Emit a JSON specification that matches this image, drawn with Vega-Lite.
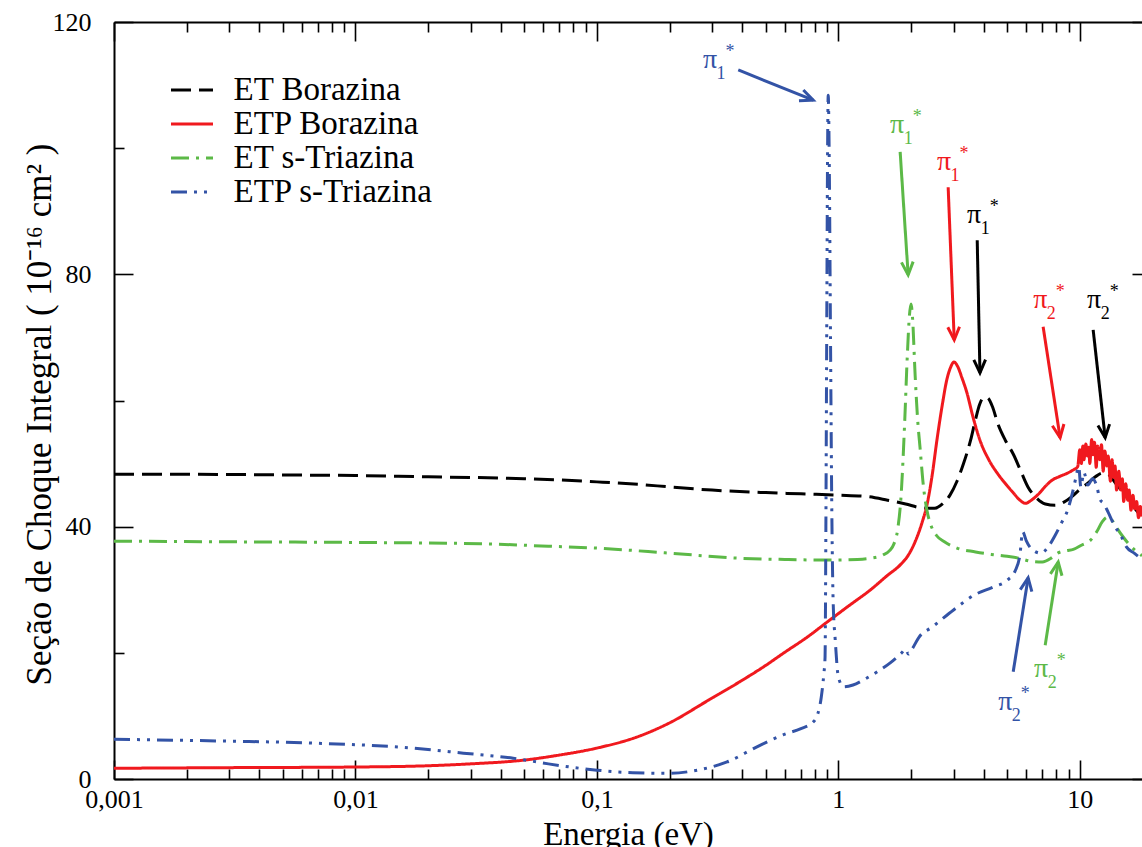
{
  "$schema": "https://vega.github.io/schema/vega-lite/v6.json",
  "width": 1028,
  "height": 757,
  "autosize": {"type": "none"},
  "padding": {"left": 114, "top": 22, "right": 0, "bottom": 68},
  "background": "white",
  "config": {
    "view": {"stroke": null},
    "font": "Liberation Serif, Times New Roman, serif",
    "text": {"font": "Liberation Serif, Times New Roman, serif"},
    "legend": {"labelFont": "Liberation Serif, Times New Roman, serif"},
    "axis": {
      "grid": false,
      "domainColor": "black",
      "domainWidth": 2,
      "tickColor": "black",
      "tickWidth": 1.6,
      "labelColor": "black",
      "titleColor": "black",
      "labelFont": "Liberation Serif, Times New Roman, serif",
      "titleFont": "Liberation Serif, Times New Roman, serif",
      "labelFontSize": 26,
      "titleFontSize": 34,
      "titleFontWeight": "normal",
      "labelFlush": false,
      "labelOverlap": false
    }
  },
  "datasets": {
    "curves": [
      {"s": "ET Borazina", "e": 0.001, "v": 48.3},
      {"s": "ET Borazina", "e": 0.002, "v": 48.3},
      {"s": "ET Borazina", "e": 0.005, "v": 48.2},
      {"s": "ET Borazina", "e": 0.01, "v": 48.1},
      {"s": "ET Borazina", "e": 0.02, "v": 47.9},
      {"s": "ET Borazina", "e": 0.03, "v": 47.8},
      {"s": "ET Borazina", "e": 0.05, "v": 47.6},
      {"s": "ET Borazina", "e": 0.07, "v": 47.4},
      {"s": "ET Borazina", "e": 0.1, "v": 47.1},
      {"s": "ET Borazina", "e": 0.15, "v": 46.7},
      {"s": "ET Borazina", "e": 0.2, "v": 46.3},
      {"s": "ET Borazina", "e": 0.3, "v": 45.8},
      {"s": "ET Borazina", "e": 0.5, "v": 45.4},
      {"s": "ET Borazina", "e": 0.7, "v": 45.2},
      {"s": "ET Borazina", "e": 1.0, "v": 45.0},
      {"s": "ET Borazina", "e": 1.3, "v": 44.8},
      {"s": "ET Borazina", "e": 1.6, "v": 44.2},
      {"s": "ET Borazina", "e": 1.9, "v": 43.6},
      {"s": "ET Borazina", "e": 2.2, "v": 43.0},
      {"s": "ET Borazina", "e": 2.5, "v": 42.9},
      {"s": "ET Borazina", "e": 2.7, "v": 43.6},
      {"s": "ET Borazina", "e": 2.9, "v": 45.0},
      {"s": "ET Borazina", "e": 3.1, "v": 47.2},
      {"s": "ET Borazina", "e": 3.3, "v": 50.0},
      {"s": "ET Borazina", "e": 3.53, "v": 53.7},
      {"s": "ET Borazina", "e": 3.7, "v": 57.0},
      {"s": "ET Borazina", "e": 3.85, "v": 59.4},
      {"s": "ET Borazina", "e": 4.0, "v": 60.5},
      {"s": "ET Borazina", "e": 4.15, "v": 60.4},
      {"s": "ET Borazina", "e": 4.35, "v": 59.0},
      {"s": "ET Borazina", "e": 4.57, "v": 56.4},
      {"s": "ET Borazina", "e": 4.9, "v": 53.8},
      {"s": "ET Borazina", "e": 5.32, "v": 51.4},
      {"s": "ET Borazina", "e": 5.7, "v": 48.8},
      {"s": "ET Borazina", "e": 6.1, "v": 46.3},
      {"s": "ET Borazina", "e": 6.6, "v": 44.6},
      {"s": "ET Borazina", "e": 7.2, "v": 43.6},
      {"s": "ET Borazina", "e": 7.9, "v": 43.4},
      {"s": "ET Borazina", "e": 8.6, "v": 43.9},
      {"s": "ET Borazina", "e": 9.3, "v": 44.8},
      {"s": "ET Borazina", "e": 10.0, "v": 45.9},
      {"s": "ET Borazina", "e": 10.8, "v": 46.9},
      {"s": "ET Borazina", "e": 11.6, "v": 47.9},
      {"s": "ET Borazina", "e": 12.4, "v": 48.5},
      {"s": "ET Borazina", "e": 13.2, "v": 48.2},
      {"s": "ET Borazina", "e": 14.0, "v": 47.0},
      {"s": "ET Borazina", "e": 15.0, "v": 45.6},
      {"s": "ET Borazina", "e": 16.0, "v": 44.4},
      {"s": "ET Borazina", "e": 17.0, "v": 42.8},
      {"s": "ET Borazina", "e": 18.1, "v": 41.6},

      {"s": "ETP Borazina", "e": 0.001, "v": 1.7},
      {"s": "ETP Borazina", "e": 0.003, "v": 1.8},
      {"s": "ETP Borazina", "e": 0.01, "v": 1.9},
      {"s": "ETP Borazina", "e": 0.02, "v": 2.1},
      {"s": "ETP Borazina", "e": 0.03, "v": 2.4},
      {"s": "ETP Borazina", "e": 0.05, "v": 3.0},
      {"s": "ETP Borazina", "e": 0.07, "v": 3.8},
      {"s": "ETP Borazina", "e": 0.1, "v": 4.9},
      {"s": "ETP Borazina", "e": 0.15, "v": 6.8},
      {"s": "ETP Borazina", "e": 0.2, "v": 8.9},
      {"s": "ETP Borazina", "e": 0.29, "v": 12.5},
      {"s": "ETP Borazina", "e": 0.39, "v": 15.4},
      {"s": "ETP Borazina", "e": 0.5, "v": 18.0},
      {"s": "ETP Borazina", "e": 0.59, "v": 19.9},
      {"s": "ETP Borazina", "e": 0.75, "v": 22.6},
      {"s": "ETP Borazina", "e": 0.9, "v": 24.9},
      {"s": "ETP Borazina", "e": 1.1, "v": 27.4},
      {"s": "ETP Borazina", "e": 1.36, "v": 30.0},
      {"s": "ETP Borazina", "e": 1.6, "v": 32.3},
      {"s": "ETP Borazina", "e": 1.8, "v": 33.9},
      {"s": "ETP Borazina", "e": 1.95, "v": 35.5},
      {"s": "ETP Borazina", "e": 2.1, "v": 38.0},
      {"s": "ETP Borazina", "e": 2.22, "v": 40.6},
      {"s": "ETP Borazina", "e": 2.33, "v": 43.5},
      {"s": "ETP Borazina", "e": 2.45, "v": 48.3},
      {"s": "ETP Borazina", "e": 2.56, "v": 53.7},
      {"s": "ETP Borazina", "e": 2.7, "v": 59.5},
      {"s": "ETP Borazina", "e": 2.81, "v": 63.2},
      {"s": "ETP Borazina", "e": 2.92, "v": 65.3},
      {"s": "ETP Borazina", "e": 3.01, "v": 66.1},
      {"s": "ETP Borazina", "e": 3.12, "v": 65.4},
      {"s": "ETP Borazina", "e": 3.25, "v": 63.6},
      {"s": "ETP Borazina", "e": 3.41, "v": 61.2},
      {"s": "ETP Borazina", "e": 3.6, "v": 57.6},
      {"s": "ETP Borazina", "e": 3.86, "v": 53.7},
      {"s": "ETP Borazina", "e": 4.2, "v": 50.6},
      {"s": "ETP Borazina", "e": 4.57, "v": 48.4},
      {"s": "ETP Borazina", "e": 5.0, "v": 46.5},
      {"s": "ETP Borazina", "e": 5.32, "v": 45.3},
      {"s": "ETP Borazina", "e": 5.65, "v": 44.2},
      {"s": "ETP Borazina", "e": 5.96, "v": 43.7},
      {"s": "ETP Borazina", "e": 6.3, "v": 44.2},
      {"s": "ETP Borazina", "e": 6.8, "v": 45.3},
      {"s": "ETP Borazina", "e": 7.2, "v": 46.4},
      {"s": "ETP Borazina", "e": 7.7, "v": 47.4},
      {"s": "ETP Borazina", "e": 8.3, "v": 48.0},
      {"s": "ETP Borazina", "e": 8.9, "v": 48.5},
      {"s": "ETP Borazina", "e": 9.4, "v": 49.0},
      {"s": "ETP Borazina", "e": 9.8, "v": 49.5},
      {"s": "ETP Borazina", "e": 10.0, "v": 52.2},
      {"s": "ETP Borazina", "e": 10.15, "v": 50.0},
      {"s": "ETP Borazina", "e": 10.3, "v": 52.8},
      {"s": "ETP Borazina", "e": 10.4, "v": 50.6},
      {"s": "ETP Borazina", "e": 10.6, "v": 53.1},
      {"s": "ETP Borazina", "e": 10.75, "v": 51.2},
      {"s": "ETP Borazina", "e": 10.9, "v": 52.6},
      {"s": "ETP Borazina", "e": 11.0, "v": 50.0},
      {"s": "ETP Borazina", "e": 11.2, "v": 53.8},
      {"s": "ETP Borazina", "e": 11.35, "v": 51.4},
      {"s": "ETP Borazina", "e": 11.5, "v": 53.4},
      {"s": "ETP Borazina", "e": 11.7, "v": 49.4},
      {"s": "ETP Borazina", "e": 11.85, "v": 52.8},
      {"s": "ETP Borazina", "e": 12.1, "v": 50.6},
      {"s": "ETP Borazina", "e": 12.3, "v": 53.0},
      {"s": "ETP Borazina", "e": 12.5, "v": 48.8},
      {"s": "ETP Borazina", "e": 12.7, "v": 52.0},
      {"s": "ETP Borazina", "e": 12.95, "v": 49.6},
      {"s": "ETP Borazina", "e": 13.1, "v": 51.2},
      {"s": "ETP Borazina", "e": 13.4, "v": 47.2},
      {"s": "ETP Borazina", "e": 13.6, "v": 50.6},
      {"s": "ETP Borazina", "e": 13.85, "v": 47.8},
      {"s": "ETP Borazina", "e": 14.0, "v": 49.6},
      {"s": "ETP Borazina", "e": 14.2, "v": 45.8},
      {"s": "ETP Borazina", "e": 14.5, "v": 48.8},
      {"s": "ETP Borazina", "e": 14.8, "v": 45.8},
      {"s": "ETP Borazina", "e": 15.0, "v": 47.6},
      {"s": "ETP Borazina", "e": 15.2, "v": 44.0},
      {"s": "ETP Borazina", "e": 15.5, "v": 46.8},
      {"s": "ETP Borazina", "e": 15.8, "v": 44.2},
      {"s": "ETP Borazina", "e": 16.0, "v": 45.8},
      {"s": "ETP Borazina", "e": 16.3, "v": 42.6},
      {"s": "ETP Borazina", "e": 16.6, "v": 45.0},
      {"s": "ETP Borazina", "e": 16.9, "v": 42.8},
      {"s": "ETP Borazina", "e": 17.2, "v": 44.0},
      {"s": "ETP Borazina", "e": 17.5, "v": 41.4},
      {"s": "ETP Borazina", "e": 17.8, "v": 43.2},
      {"s": "ETP Borazina", "e": 18.1, "v": 41.6},

      {"s": "ET s-Triazina", "e": 0.001, "v": 37.7},
      {"s": "ET s-Triazina", "e": 0.003, "v": 37.6},
      {"s": "ET s-Triazina", "e": 0.01, "v": 37.5},
      {"s": "ET s-Triazina", "e": 0.033, "v": 37.3},
      {"s": "ET s-Triazina", "e": 0.063, "v": 36.9},
      {"s": "ET s-Triazina", "e": 0.1, "v": 36.6},
      {"s": "ET s-Triazina", "e": 0.2, "v": 35.8},
      {"s": "ET s-Triazina", "e": 0.39, "v": 35.0},
      {"s": "ET s-Triazina", "e": 0.6, "v": 34.8},
      {"s": "ET s-Triazina", "e": 0.9, "v": 34.7},
      {"s": "ET s-Triazina", "e": 1.2, "v": 34.8},
      {"s": "ET s-Triazina", "e": 1.36, "v": 35.0},
      {"s": "ET s-Triazina", "e": 1.53, "v": 35.5},
      {"s": "ET s-Triazina", "e": 1.63, "v": 36.2},
      {"s": "ET s-Triazina", "e": 1.7, "v": 37.3},
      {"s": "ET s-Triazina", "e": 1.76, "v": 39.5},
      {"s": "ET s-Triazina", "e": 1.82, "v": 45.0},
      {"s": "ET s-Triazina", "e": 1.88, "v": 56.0},
      {"s": "ET s-Triazina", "e": 1.93, "v": 67.0},
      {"s": "ET s-Triazina", "e": 1.97, "v": 73.5},
      {"s": "ET s-Triazina", "e": 2.0, "v": 75.3},
      {"s": "ET s-Triazina", "e": 2.03, "v": 73.0},
      {"s": "ET s-Triazina", "e": 2.08, "v": 64.0},
      {"s": "ET s-Triazina", "e": 2.13, "v": 57.0},
      {"s": "ET s-Triazina", "e": 2.18, "v": 52.5},
      {"s": "ET s-Triazina", "e": 2.25, "v": 46.5},
      {"s": "ET s-Triazina", "e": 2.33, "v": 42.5},
      {"s": "ET s-Triazina", "e": 2.42, "v": 40.2},
      {"s": "ET s-Triazina", "e": 2.55, "v": 38.6},
      {"s": "ET s-Triazina", "e": 2.75, "v": 37.6},
      {"s": "ET s-Triazina", "e": 3.1, "v": 36.6},
      {"s": "ET s-Triazina", "e": 3.7, "v": 36.0},
      {"s": "ET s-Triazina", "e": 4.3, "v": 35.6},
      {"s": "ET s-Triazina", "e": 5.0, "v": 35.3},
      {"s": "ET s-Triazina", "e": 5.6, "v": 35.0},
      {"s": "ET s-Triazina", "e": 6.3, "v": 34.5},
      {"s": "ET s-Triazina", "e": 7.0, "v": 34.4},
      {"s": "ET s-Triazina", "e": 7.6, "v": 35.0},
      {"s": "ET s-Triazina", "e": 8.1, "v": 35.8},
      {"s": "ET s-Triazina", "e": 8.8, "v": 36.2},
      {"s": "ET s-Triazina", "e": 9.4, "v": 36.4},
      {"s": "ET s-Triazina", "e": 10.2, "v": 37.1},
      {"s": "ET s-Triazina", "e": 11.1, "v": 37.9},
      {"s": "ET s-Triazina", "e": 11.8, "v": 39.3},
      {"s": "ET s-Triazina", "e": 12.4, "v": 40.8},
      {"s": "ET s-Triazina", "e": 13.0, "v": 41.5},
      {"s": "ET s-Triazina", "e": 13.6, "v": 41.0},
      {"s": "ET s-Triazina", "e": 14.3, "v": 39.7},
      {"s": "ET s-Triazina", "e": 15.1, "v": 38.4},
      {"s": "ET s-Triazina", "e": 16.0, "v": 37.2},
      {"s": "ET s-Triazina", "e": 17.0, "v": 36.2},
      {"s": "ET s-Triazina", "e": 18.1, "v": 35.4},

      {"s": "ETP s-Triazina", "e": 0.001, "v": 6.3},
      {"s": "ETP s-Triazina", "e": 0.003, "v": 6.0},
      {"s": "ETP s-Triazina", "e": 0.0066, "v": 5.7},
      {"s": "ETP s-Triazina", "e": 0.0173, "v": 4.9},
      {"s": "ETP s-Triazina", "e": 0.028, "v": 4.1},
      {"s": "ETP s-Triazina", "e": 0.045, "v": 3.3},
      {"s": "ETP s-Triazina", "e": 0.063, "v": 2.4},
      {"s": "ETP s-Triazina", "e": 0.085, "v": 1.7},
      {"s": "ETP s-Triazina", "e": 0.1, "v": 1.4},
      {"s": "ETP s-Triazina", "e": 0.141, "v": 1.0},
      {"s": "ETP s-Triazina", "e": 0.2, "v": 0.9},
      {"s": "ETP s-Triazina", "e": 0.26, "v": 1.4},
      {"s": "ETP s-Triazina", "e": 0.346, "v": 2.7},
      {"s": "ETP s-Triazina", "e": 0.46, "v": 5.1},
      {"s": "ETP s-Triazina", "e": 0.59, "v": 7.0},
      {"s": "ETP s-Triazina", "e": 0.7, "v": 8.0},
      {"s": "ETP s-Triazina", "e": 0.78, "v": 8.9},
      {"s": "ETP s-Triazina", "e": 0.82, "v": 10.2},
      {"s": "ETP s-Triazina", "e": 0.85, "v": 13.0},
      {"s": "ETP s-Triazina", "e": 0.87, "v": 16.5},
      {"s": "ETP s-Triazina", "e": 0.881, "v": 19.3},
      {"s": "ETP s-Triazina", "e": 0.888, "v": 40.0},
      {"s": "ETP s-Triazina", "e": 0.895, "v": 70.0},
      {"s": "ETP s-Triazina", "e": 0.902, "v": 98.0},
      {"s": "ETP s-Triazina", "e": 0.908, "v": 108.4},
      {"s": "ETP s-Triazina", "e": 0.917, "v": 98.0},
      {"s": "ETP s-Triazina", "e": 0.928, "v": 70.0},
      {"s": "ETP s-Triazina", "e": 0.94, "v": 42.0},
      {"s": "ETP s-Triazina", "e": 0.952, "v": 28.0},
      {"s": "ETP s-Triazina", "e": 0.971, "v": 22.0},
      {"s": "ETP s-Triazina", "e": 1.0, "v": 16.2},
      {"s": "ETP s-Triazina", "e": 1.05, "v": 14.6},
      {"s": "ETP s-Triazina", "e": 1.15, "v": 14.9},
      {"s": "ETP s-Triazina", "e": 1.27, "v": 15.7},
      {"s": "ETP s-Triazina", "e": 1.45, "v": 17.0},
      {"s": "ETP s-Triazina", "e": 1.64, "v": 18.4},
      {"s": "ETP s-Triazina", "e": 1.82, "v": 19.9},
      {"s": "ETP s-Triazina", "e": 1.9, "v": 20.6},
      {"s": "ETP s-Triazina", "e": 1.95, "v": 19.8},
      {"s": "ETP s-Triazina", "e": 2.02, "v": 20.6},
      {"s": "ETP s-Triazina", "e": 2.16, "v": 22.5},
      {"s": "ETP s-Triazina", "e": 2.45, "v": 24.1},
      {"s": "ETP s-Triazina", "e": 3.0, "v": 26.8},
      {"s": "ETP s-Triazina", "e": 3.67, "v": 29.2},
      {"s": "ETP s-Triazina", "e": 4.37, "v": 30.4},
      {"s": "ETP s-Triazina", "e": 5.0, "v": 31.5},
      {"s": "ETP s-Triazina", "e": 5.4, "v": 33.0},
      {"s": "ETP s-Triazina", "e": 5.65, "v": 35.5},
      {"s": "ETP s-Triazina", "e": 5.8, "v": 39.2},
      {"s": "ETP s-Triazina", "e": 6.0, "v": 37.8},
      {"s": "ETP s-Triazina", "e": 6.3, "v": 36.5},
      {"s": "ETP s-Triazina", "e": 6.9, "v": 35.8},
      {"s": "ETP s-Triazina", "e": 7.4, "v": 36.8},
      {"s": "ETP s-Triazina", "e": 7.9, "v": 38.6},
      {"s": "ETP s-Triazina", "e": 8.4, "v": 40.6},
      {"s": "ETP s-Triazina", "e": 8.9, "v": 42.6},
      {"s": "ETP s-Triazina", "e": 9.3, "v": 45.2},
      {"s": "ETP s-Triazina", "e": 9.6, "v": 47.5},
      {"s": "ETP s-Triazina", "e": 9.9, "v": 49.5},
      {"s": "ETP s-Triazina", "e": 10.1, "v": 46.3},
      {"s": "ETP s-Triazina", "e": 10.4, "v": 48.6},
      {"s": "ETP s-Triazina", "e": 10.8, "v": 46.6},
      {"s": "ETP s-Triazina", "e": 11.3, "v": 47.6},
      {"s": "ETP s-Triazina", "e": 11.8, "v": 46.2},
      {"s": "ETP s-Triazina", "e": 12.1, "v": 44.4},
      {"s": "ETP s-Triazina", "e": 12.6, "v": 43.6},
      {"s": "ETP s-Triazina", "e": 13.1, "v": 42.3},
      {"s": "ETP s-Triazina", "e": 14.0, "v": 40.0},
      {"s": "ETP s-Triazina", "e": 14.8, "v": 38.6},
      {"s": "ETP s-Triazina", "e": 15.6, "v": 36.8},
      {"s": "ETP s-Triazina", "e": 16.8, "v": 35.8},
      {"s": "ETP s-Triazina", "e": 18.1, "v": 34.8}
    ],
    "arrows": [
      {"s": "ETP s-Triazina", "x": 0.385, "y": 112.4, "x2": 0.787, "y2": 107.6, "angle": 21.8},
      {"s": "ET s-Triazina", "x": 1.803, "y": 99.4, "x2": 1.946, "y2": 79.9, "angle": 86.3},
      {"s": "ETP Borazina", "x": 2.85, "y": 93.8, "x2": 3.02, "y2": 69.6, "angle": 87.4},
      {"s": "ET Borazina", "x": 3.76, "y": 85.4, "x2": 3.86, "y2": 64.4, "angle": 88.7},
      {"s": "ETP Borazina", "x": 7.05, "y": 71.7, "x2": 8.29, "y2": 54.1, "angle": 81.3},
      {"s": "ET Borazina", "x": 11.36, "y": 71.2, "x2": 12.74, "y2": 54.1, "angle": 83.7},
      {"s": "ETP s-Triazina", "x": 5.3, "y": 17.0, "x2": 6.11, "y2": 31.9, "angle": -80.9},
      {"s": "ET s-Triazina", "x": 7.19, "y": 21.2, "x2": 8.14, "y2": 34.4, "angle": -81.1}
    ],
    "labels": [
      {"s": "ETP s-Triazina", "x": 0.294, "y": 112.7, "sub": "1"},
      {"s": "ET s-Triazina", "x": 1.752, "y": 102.4, "sub": "1"},
      {"s": "ETP Borazina", "x": 2.742, "y": 96.5, "sub": "1"},
      {"s": "ET Borazina", "x": 3.652, "y": 88.1, "sub": "1"},
      {"s": "ETP Borazina", "x": 6.855, "y": 74.7, "sub": "2"},
      {"s": "ET Borazina", "x": 11.47, "y": 74.7, "sub": "2"},
      {"s": "ETP s-Triazina", "x": 4.91, "y": 10.9, "sub": "2"},
      {"s": "ET s-Triazina", "x": 6.92, "y": 16.2, "sub": "2"}
    ]
  },
  "layer": [
    {
      "data": {"name": "curves"},
      "mark": {"type": "line", "strokeWidth": 3, "clip": true, "interpolate": "monotone"},
      "encoding": {
        "x": {
          "field": "e", "type": "quantitative",
          "scale": {"type": "log", "domain": [0.001, 18.1], "nice": false},
          "axis": {
            "orient": "bottom", "values": [0.001, 0.01, 0.1, 1, 10],
            "tickSize": -19, "labelPadding": 26,
            "labelExpr": "replace(toString(datum.value), '.', ',')",
            "title": "Energia (eV)", "titleFontSize": 33, "titleBaseline": "alphabetic", "titlePadding": 32
          }
        },
        "y": {
          "field": "v", "type": "quantitative",
          "scale": {"domain": [0, 120], "nice": false},
          "axis": {
            "orient": "left", "values": [0, 40, 80, 120],
            "tickSize": -19, "labelPadding": 42,
            "title": "Seção de Choque Integral ( 10⁻¹⁶ cm² )",
            "titleFontSize": 35,
            "titleBaseline": "alphabetic", "titlePadding": 2, "titleY": 392
          }
        },
        "color": {
          "field": "s", "type": "nominal",
          "scale": {
            "domain": ["ET Borazina", "ETP Borazina", "ET s-Triazina", "ETP s-Triazina"],
            "range": ["#000000", "#f0191e", "#5cb947", "#3353a6"]
          },
          "legend": {
            "title": null, "orient": "none", "legendX": 61.5, "legendY": 51.5,
            "symbolType": "M-1.5,0L1.5,0", "symbolSize": 784, "symbolStrokeWidth": 3,
            "labelFont": "Liberation Serif, Times New Roman, serif", "labelFontSize": 33, "labelColor": "black",
            "labelOffset": 25, "rowPadding": -3, "padding": 0, "labelLimit": 400
          }
        },
        "strokeDash": {
          "field": "s", "type": "nominal",
          "scale": {
            "domain": ["ET Borazina", "ETP Borazina", "ET s-Triazina", "ETP s-Triazina"],
            "range": [[20, 8], [1, 0], [18, 7, 3, 7], [16, 7, 3, 7, 3, 7]]
          },
          "legend": {
            "title": null, "orient": "none", "legendX": 61.5, "legendY": 51.5,
            "symbolType": "M-1.5,0L1.5,0", "symbolSize": 784, "symbolStrokeWidth": 3,
            "labelFont": "Liberation Serif, Times New Roman, serif", "labelFontSize": 33, "labelColor": "black",
            "labelOffset": 25, "rowPadding": -3, "padding": 0, "labelLimit": 400
          }
        }
      }
    },
    {
      "data": {"name": "arrows"},
      "mark": {"type": "rule", "strokeWidth": 3},
      "encoding": {
        "x": {
          "field": "x", "type": "quantitative",
          "scale": {"type": "log", "domain": [0.001, 18.1], "nice": false},
          "axis": {
            "orient": "bottom",
            "values": [0.002, 0.003, 0.004, 0.005, 0.006, 0.007, 0.008, 0.009, 0.02, 0.03, 0.04, 0.05, 0.06, 0.07, 0.08, 0.09, 0.2, 0.3, 0.4, 0.5, 0.6, 0.7, 0.8, 0.9, 2, 3, 4, 5, 6, 7, 8, 9],
            "tickSize": -10, "labels": false, "domain": false, "title": null
          }
        },
        "x2": {"field": "x2"},
        "y": {
          "field": "y", "type": "quantitative",
          "scale": {"domain": [0, 120], "nice": false},
          "axis": {"orient": "left", "values": [20, 60, 100], "tickSize": -10, "labels": false, "domain": false, "title": null}
        },
        "y2": {"field": "y2"},
        "color": {"field": "s", "type": "nominal", "legend": null}
      }
    },
    {
      "data": {"name": "arrows"},
      "mark": {"type": "point", "shape": "M-2,-0.9L0,0L-2,0.9", "filled": false, "strokeWidth": 3, "size": 169, "opacity": 1},
      "encoding": {
        "x": {
          "field": "x2", "type": "quantitative",
          "scale": {"type": "log", "domain": [0.001, 18.1], "nice": false},
          "axis": {"orient": "top", "values": [0.001, 0.01, 0.1, 1, 10], "tickSize": -19, "labels": false, "domain": true, "title": null}
        },
        "y": {
          "field": "y2", "type": "quantitative",
          "scale": {"domain": [0, 120], "nice": false},
          "axis": {"orient": "right", "values": [0, 40, 80, 120], "tickSize": -10, "labels": false, "domain": false, "title": null}
        },
        "angle": {"field": "angle", "type": "quantitative", "scale": null},
        "color": {"field": "s", "type": "nominal", "legend": null}
      }
    },
    {
      "data": {"name": "labels"},
      "mark": {"type": "text", "font": "Liberation Serif, Times New Roman, serif", "fontSize": 28, "align": "center", "baseline": "alphabetic"},
      "encoding": {
        "x": {
          "field": "x", "type": "quantitative",
          "scale": {"type": "log", "domain": [0.001, 18.1], "nice": false},
          "axis": {
            "orient": "top",
            "values": [0.002, 0.003, 0.004, 0.005, 0.006, 0.007, 0.008, 0.009, 0.02, 0.03, 0.04, 0.05, 0.06, 0.07, 0.08, 0.09, 0.2, 0.3, 0.4, 0.5, 0.6, 0.7, 0.8, 0.9, 2, 3, 4, 5, 6, 7, 8, 9],
            "tickSize": -10, "labels": false, "domain": false, "title": null
          }
        },
        "y": {"field": "y", "type": "quantitative", "scale": {"domain": [0, 120], "nice": false}, "axis": null},
        "text": {"value": "π"},
        "color": {"field": "s", "type": "nominal", "legend": null}
      }
    },
    {
      "data": {"name": "labels"},
      "mark": {"type": "text", "font": "Liberation Serif, Times New Roman, serif", "fontSize": 18, "align": "center", "baseline": "alphabetic", "dx": 11, "dy": 11},
      "encoding": {
        "x": {"field": "x", "type": "quantitative", "scale": {"type": "log", "domain": [0.001, 18.1], "nice": false}, "axis": null},
        "y": {"field": "y", "type": "quantitative", "scale": {"domain": [0, 120], "nice": false}, "axis": null},
        "text": {"field": "sub"},
        "color": {"field": "s", "type": "nominal", "legend": null}
      }
    },
    {
      "data": {"name": "labels"},
      "mark": {"type": "text", "font": "Liberation Serif, Times New Roman, serif", "fontSize": 18, "align": "center", "baseline": "alphabetic", "dx": 20, "dy": -11},
      "encoding": {
        "x": {"field": "x", "type": "quantitative", "scale": {"type": "log", "domain": [0.001, 18.1], "nice": false}, "axis": null},
        "y": {"field": "y", "type": "quantitative", "scale": {"domain": [0, 120], "nice": false}, "axis": null},
        "text": {"value": "*"},
        "color": {"field": "s", "type": "nominal", "legend": null}
      }
    }
  ],
  "resolve": {"axis": {"x": "independent", "y": "independent"}}
}
